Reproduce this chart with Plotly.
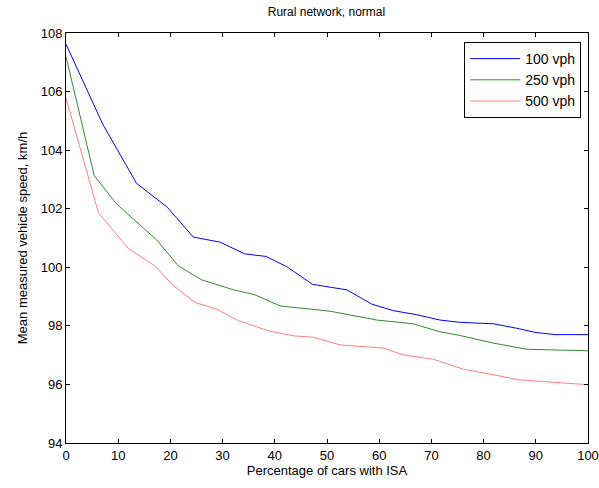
import plotly.graph_objects as go

x_100 = [0, 7.0, 13.5, 19.4, 24.4, 29.5, 34.2, 38.3, 42.3, 47.2, 50.6, 53.8, 58.6, 62.7, 67.2, 71.6, 75.5, 81.9, 86.3, 89.8, 93.7, 100]
y_100 = [107.62, 104.9, 102.87, 102.05, 101.03, 100.86, 100.46, 100.37, 100.02, 99.42, 99.32, 99.23, 98.74, 98.52, 98.38, 98.2, 98.12, 98.07, 97.92, 97.78, 97.7, 97.7]

x_250 = [0, 5.4, 9.7, 17.4, 21.5, 26.0, 32.1, 36.2, 41.0, 50.6, 59.5, 66.5, 71.6, 75.5, 81.9, 88.3, 100]
y_250 = [107.19, 103.13, 102.16, 100.93, 100.05, 99.57, 99.23, 99.06, 98.68, 98.5, 98.2, 98.07, 97.8, 97.67, 97.41, 97.2, 97.15]

x_500 = [0, 6.2, 11.9, 17.0, 20.6, 24.7, 28.9, 33.0, 38.8, 43.5, 47.4, 52.5, 60.8, 64.6, 70.4, 76.1, 81.9, 86.6, 91.4, 100]
y_500 = [105.77, 101.87, 100.65, 100.05, 99.37, 98.8, 98.57, 98.18, 97.83, 97.66, 97.61, 97.35, 97.24, 97.01, 96.86, 96.52, 96.33, 96.16, 96.1, 95.99]

x_ticks = [0, 10, 20, 30, 40, 50, 60, 70, 80, 90, 100]
y_ticks = [94, 96, 98, 100, 102, 104, 106, 108]

font = "Liberation Sans, Arial, sans-serif"

fig = go.Figure()
fig.add_trace(go.Scatter(x=x_100, y=y_100, mode="lines", name="100 vph",
                         line=dict(color="#0000ff", width=1)))
fig.add_trace(go.Scatter(x=x_250, y=y_250, mode="lines", name="250 vph",
                         line=dict(color="#2e8b2e", width=1)))
fig.add_trace(go.Scatter(x=x_500, y=y_500, mode="lines", name="500 vph",
                         line=dict(color="#ff7f7f", width=1)))

axis_common = dict(showline=True, linecolor="black", linewidth=1, mirror="ticks",
                   ticks="inside", ticklen=4, tickcolor="black", showgrid=False,
                   zeroline=False, automargin=False,
                   tickfont=dict(family=font, size=13, color="black"))

fig.update_layout(
    template="none",
    width=599, height=488,
    margin=dict(l=66, r=11, t=33, b=45),
    paper_bgcolor="white", plot_bgcolor="white",
    font=dict(family=font, size=13, color="black"),
    title=dict(text="Rural network, normal", x=0.545, xanchor="center", y=0.975,
               yanchor="middle", font=dict(family=font, size=12, color="black")),
    xaxis=dict(range=[0, 100], tickvals=x_ticks,
               title=dict(text="Percentage of cars with ISA", standoff=3,
                          font=dict(family=font, size=13)),
               **axis_common),
    yaxis=dict(range=[94, 108], tickvals=y_ticks,
               title=dict(text="Mean measured vehicle speed, km/h", standoff=10,
                          font=dict(family=font, size=13)),
               **axis_common),
    legend=dict(x=0.987, y=0.978, xanchor="right", yanchor="top",
                bordercolor="black", borderwidth=1, bgcolor="white",
                font=dict(family=font, size=14), tracegroupgap=0,
                itemwidth=50),
)

fig.write_html("out.html")
